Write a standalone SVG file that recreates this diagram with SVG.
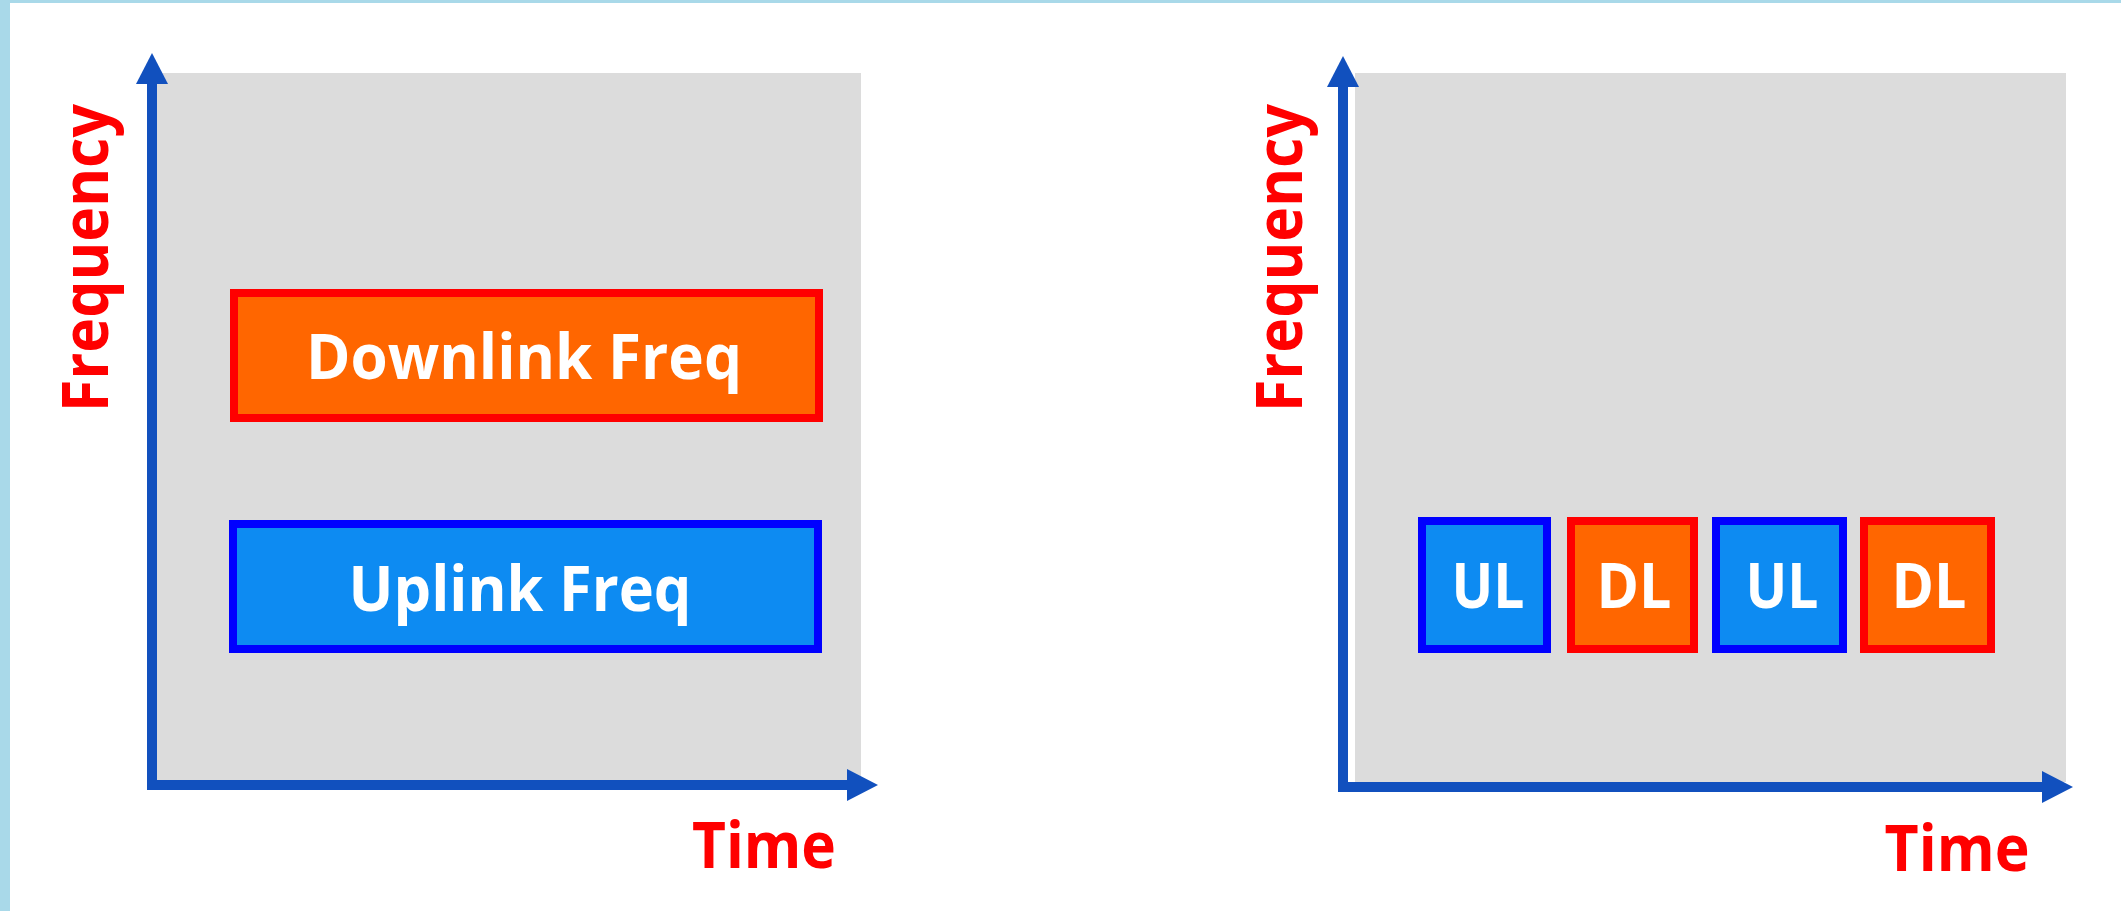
<svg xmlns="http://www.w3.org/2000/svg" width="2121" height="911" viewBox="0 0 2121 911">
  <style>
    .frame { fill: #a9d9e9; }
    .plot { fill: #dcdcdc; }
    .axis { fill: none; stroke: #1150be; stroke-width: 10; stroke-linejoin: miter; }
    .axis-label { font-family: "Open Sans", "Noto Sans", "Liberation Sans", sans-serif; font-weight: 700; font-size: 64px; fill: #ff0000; }
    .dl rect { fill: #ff6600; stroke: #ff0000; stroke-width: 8; }
    .ul rect { fill: #0d8bf2; stroke: #0000ff; stroke-width: 8; }
    .box-label { font-family: "Open Sans", "Noto Sans", "Liberation Sans", sans-serif; font-weight: 700; font-size: 63px; fill: #ffffff; text-anchor: middle; }
  </style>
  <defs>
    <marker id="arrow" markerUnits="userSpaceOnUse" markerWidth="31" markerHeight="32" refX="0" refY="16" orient="auto-start-reverse">
      <path d="M0,0 L31,16 L0,32 Z" fill="#1150be"/>
    </marker>
  </defs>

  <!-- page background and window frame -->
  <rect x="0" y="0" width="2121" height="911" fill="#ffffff"/>
  <rect class="frame" x="0" y="0" width="10" height="911"/>
  <rect class="frame" x="0" y="0" width="2121" height="3"/>

  <!-- FDD panel -->
  <g id="fdd-panel">
    <rect class="plot" x="157" y="73" width="704" height="707"/>
  </g>
  <!-- TDD panel -->
  <g id="tdd-panel">
    <rect class="plot" x="1355" y="73" width="711" height="709"/>
  </g>

  <!-- axes -->
  <g id="connectors">
    <path class="axis" d="M152,84 L152,785 L847,785" marker-start="url(#arrow)" marker-end="url(#arrow)"/>
    <path class="axis" d="M1343,87 L1343,787 L2042,787" marker-start="url(#arrow)" marker-end="url(#arrow)"/>
  </g>

  <!-- axis labels -->
  <g id="fdd-freq-label">
    <text class="axis-label" x="108" y="258" text-anchor="middle" textLength="308" lengthAdjust="spacingAndGlyphs" transform="rotate(-90 108 258)">Frequency</text>
  </g>
  <g id="fdd-time-label">
    <text class="axis-label" x="764" y="868" text-anchor="middle" textLength="144" lengthAdjust="spacingAndGlyphs">Time</text>
  </g>
  <g id="tdd-freq-label">
    <text class="axis-label" x="1302" y="258" text-anchor="middle" textLength="308" lengthAdjust="spacingAndGlyphs" transform="rotate(-90 1302 258)">Frequency</text>
  </g>
  <g id="tdd-time-label">
    <text class="axis-label" x="1957" y="871" text-anchor="middle" textLength="145" lengthAdjust="spacingAndGlyphs">Time</text>
  </g>

  <!-- FDD bands -->
  <g id="downlink-freq" class="dl">
    <rect x="234" y="293" width="585" height="125"/>
    <text class="box-label" x="524" y="379" textLength="436" lengthAdjust="spacingAndGlyphs">Downlink Freq</text>
  </g>
  <g id="uplink-freq" class="ul">
    <rect x="233" y="524" width="585" height="125"/>
    <text class="box-label" x="520" y="611" textLength="343" lengthAdjust="spacingAndGlyphs">Uplink Freq</text>
  </g>

  <!-- TDD slots -->
  <g id="slot-ul-1" class="ul">
    <rect x="1422" y="521" width="125" height="128"/>
    <text class="box-label" x="1488" y="608" textLength="73" lengthAdjust="spacingAndGlyphs">UL</text>
  </g>
  <g id="slot-dl-1" class="dl">
    <rect x="1571" y="521" width="123" height="128"/>
    <text class="box-label" x="1634" y="608" textLength="75" lengthAdjust="spacingAndGlyphs">DL</text>
  </g>
  <g id="slot-ul-2" class="ul">
    <rect x="1716" y="521" width="127" height="128"/>
    <text class="box-label" x="1782" y="608" textLength="73" lengthAdjust="spacingAndGlyphs">UL</text>
  </g>
  <g id="slot-dl-2" class="dl">
    <rect x="1864" y="521" width="127" height="128"/>
    <text class="box-label" x="1929" y="608" textLength="75" lengthAdjust="spacingAndGlyphs">DL</text>
  </g>
</svg>
